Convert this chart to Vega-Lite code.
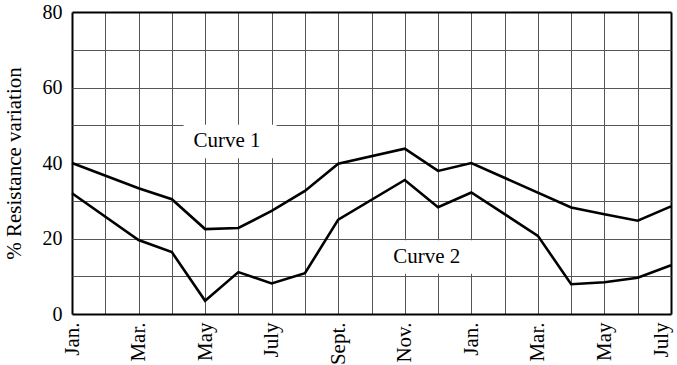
{
  "$schema": "https://vega.github.io/schema/vega-lite/v6.json",
  "width": 599,
  "height": 302,
  "autosize": {"type": "none"},
  "padding": {"left": 72, "top": 12, "right": 6, "bottom": 51},
  "background": "#ffffff",
  "config": {
    "view": {"stroke": null},
    "font": "Liberation Serif"
  },
  "datasets": {
    "curves": [
      {"month": 0, "value": 40.0, "curve": "Curve 1"},
      {"month": 2, "value": 33.3, "curve": "Curve 1"},
      {"month": 3, "value": 30.4, "curve": "Curve 1"},
      {"month": 4, "value": 22.5, "curve": "Curve 1"},
      {"month": 5, "value": 22.8, "curve": "Curve 1"},
      {"month": 6, "value": 27.3, "curve": "Curve 1"},
      {"month": 7, "value": 32.6, "curve": "Curve 1"},
      {"month": 8, "value": 39.8, "curve": "Curve 1"},
      {"month": 10, "value": 43.8, "curve": "Curve 1"},
      {"month": 11, "value": 37.9, "curve": "Curve 1"},
      {"month": 12, "value": 40.0, "curve": "Curve 1"},
      {"month": 15, "value": 28.2, "curve": "Curve 1"},
      {"month": 16, "value": 26.4, "curve": "Curve 1"},
      {"month": 17, "value": 24.7, "curve": "Curve 1"},
      {"month": 18, "value": 28.5, "curve": "Curve 1"},
      {"month": 0, "value": 32.0, "curve": "Curve 2"},
      {"month": 2, "value": 19.6, "curve": "Curve 2"},
      {"month": 3, "value": 16.4, "curve": "Curve 2"},
      {"month": 4, "value": 3.5, "curve": "Curve 2"},
      {"month": 5, "value": 11.1, "curve": "Curve 2"},
      {"month": 6, "value": 8.1, "curve": "Curve 2"},
      {"month": 7, "value": 10.8, "curve": "Curve 2"},
      {"month": 8, "value": 25.0, "curve": "Curve 2"},
      {"month": 10, "value": 35.5, "curve": "Curve 2"},
      {"month": 11, "value": 28.3, "curve": "Curve 2"},
      {"month": 12, "value": 32.2, "curve": "Curve 2"},
      {"month": 14, "value": 20.7, "curve": "Curve 2"},
      {"month": 15, "value": 7.9, "curve": "Curve 2"},
      {"month": 16, "value": 8.4, "curve": "Curve 2"},
      {"month": 17, "value": 9.6, "curve": "Curve 2"},
      {"month": 18, "value": 12.9, "curve": "Curve 2"}
    ],
    "labels": [
      {"month": 4.75, "value": 45.7, "label": "Curve 1"},
      {"month": 10.75, "value": 15.1, "label": "Curve 2"}
    ]
  },
  "encoding": {
    "x": {
      "field": "month",
      "type": "quantitative",
      "scale": {"domain": [0, 18], "nice": false, "zero": false},
      "axis": {
        "title": null,
        "values": [0, 1, 2, 3, 4, 5, 6, 7, 8, 9, 10, 11, 12, 13, 14, 15, 16, 17, 18],
        "labelExpr": "['Jan.','','Mar.','','May','','July','','Sept.','','Nov.','','Jan.','','Mar.','','May','','July'][datum.value]",
        "labelAngle": -90,
        "labelFlush": false,
        "labelOverlap": false,
        "labelBound": false,
        "labelBaseline": {"condition": {"test": "datum.value === 18", "value": "bottom"}, "value": "middle"},
        "labelFont": "Liberation Serif",
        "labelFontSize": 21,
        "labelColor": "#000000",
        "labelPadding": 8,
        "ticks": false,
        "domain": false,
        "grid": true,
        "gridColor": {"condition": {"test": "datum.value === 0 || datum.value === 18", "value": "#000000"}, "value": "#555555"},
        "gridWidth": {"condition": {"test": "datum.value === 0 || datum.value === 18", "value": 2}, "value": 1},
        "gridOpacity": 1
      }
    },
    "y": {
      "field": "value",
      "type": "quantitative",
      "scale": {"domain": [0, 80], "nice": false},
      "axis": {
        "title": "% Resistance variation",
        "titleFont": "Liberation Serif",
        "titleFontSize": 21,
        "titleFontWeight": "normal",
        "titleColor": "#000000",
        "titlePadding": 18,
        "values": [0, 10, 20, 30, 40, 50, 60, 70, 80],
        "labelExpr": "datum.value % 20 === 0 ? datum.label : ''",
        "labelFlush": false,
        "labelOverlap": false,
        "labelFont": "Liberation Serif",
        "labelFontSize": 20,
        "labelColor": "#000000",
        "labelPadding": 10,
        "ticks": false,
        "domain": false,
        "grid": true,
        "gridColor": {"condition": {"test": "datum.value === 0 || datum.value === 80", "value": "#000000"}, "value": "#555555"},
        "gridWidth": {"condition": {"test": "datum.value === 0 || datum.value === 80", "value": 2}, "value": 1},
        "gridOpacity": 1
      }
    }
  },
  "layer": [
    {
      "data": {"name": "labels"},
      "mark": {
        "type": "point",
        "shape": "M-1,-0.36V0.36H1V-0.36Z",
        "size": 8649,
        "filled": true,
        "fill": "#ffffff",
        "opacity": 1,
        "strokeWidth": 0
      }
    },
    {
      "data": {"name": "curves"},
      "mark": {"type": "line", "color": "#000000", "strokeWidth": 2.6, "strokeJoin": "miter"},
      "encoding": {"detail": {"field": "curve"}}
    },
    {
      "data": {"name": "labels"},
      "mark": {"type": "text", "font": "Liberation Serif", "fontSize": 21, "color": "#000000", "dx": -3, "baseline": "middle", "align": "center"},
      "encoding": {"text": {"field": "label"}}
    }
  ]
}
